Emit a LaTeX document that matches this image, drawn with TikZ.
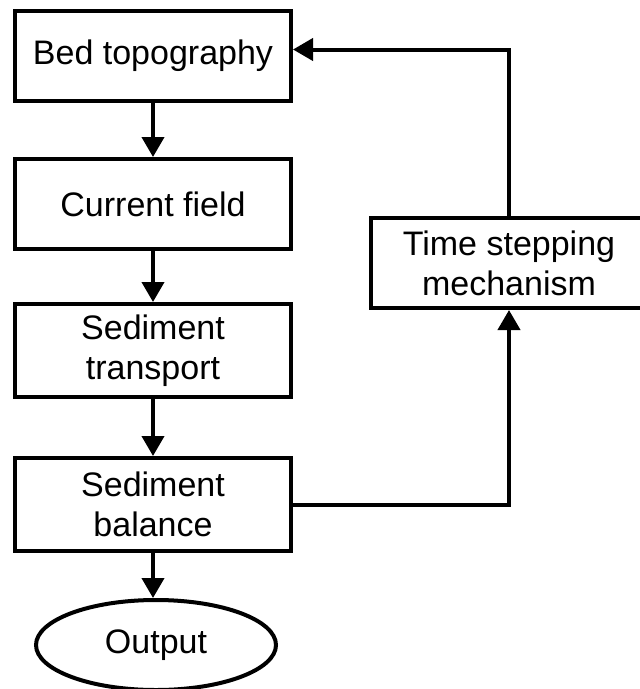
\documentclass[tikz,border=0pt]{standalone}
\usepackage{fontspec}
\setmainfont{Liberation Sans}
\usetikzlibrary{arrows.meta,shapes.geometric}
\begin{document}
\begin{tikzpicture}[x=1pt, y=-1pt,
    block/.style={rectangle, draw, line width=4pt, minimum height=90pt, minimum width=276pt, align=center,
      font=\fontsize{34}{40}\selectfont},
    flow/.style={line width=4pt, -{Triangle[length=20pt, width=22pt]}}]
  \useasboundingbox (0, 0) rectangle (640, 689);
  % Nodes
  \node (bed) [block] at (153, 55.5) {Bed topography};
  \node (current) [block] at (153, 204) {Current field};
  \node (transport) [block, minimum height=93pt] at (153, 350.5) {Sediment\\transport};
  \node (balance) [block, minimum height=93pt] at (153, 504.5) {Sediment\\balance};
  \node (output) [ellipse, draw, line width=4pt, minimum width=240pt, minimum height=90pt,
    font=\fontsize{34}{40}\selectfont] at (156, 645) {Output};
  \node (time) [block] at (509, 263) {Time stepping\\mechanism};
  % Arrows
  \draw[flow] (bed) -- (current);
  \draw[flow] (current) -- (transport);
  \draw[flow] (transport) -- (balance);
  \draw[flow] (balance) -- (balance |- output.north);
  \draw[flow] (balance.east) -| (time.south);
  \draw[flow] (time.north) |- ([yshift=6pt]bed.east);
\end{tikzpicture}
\end{document}
